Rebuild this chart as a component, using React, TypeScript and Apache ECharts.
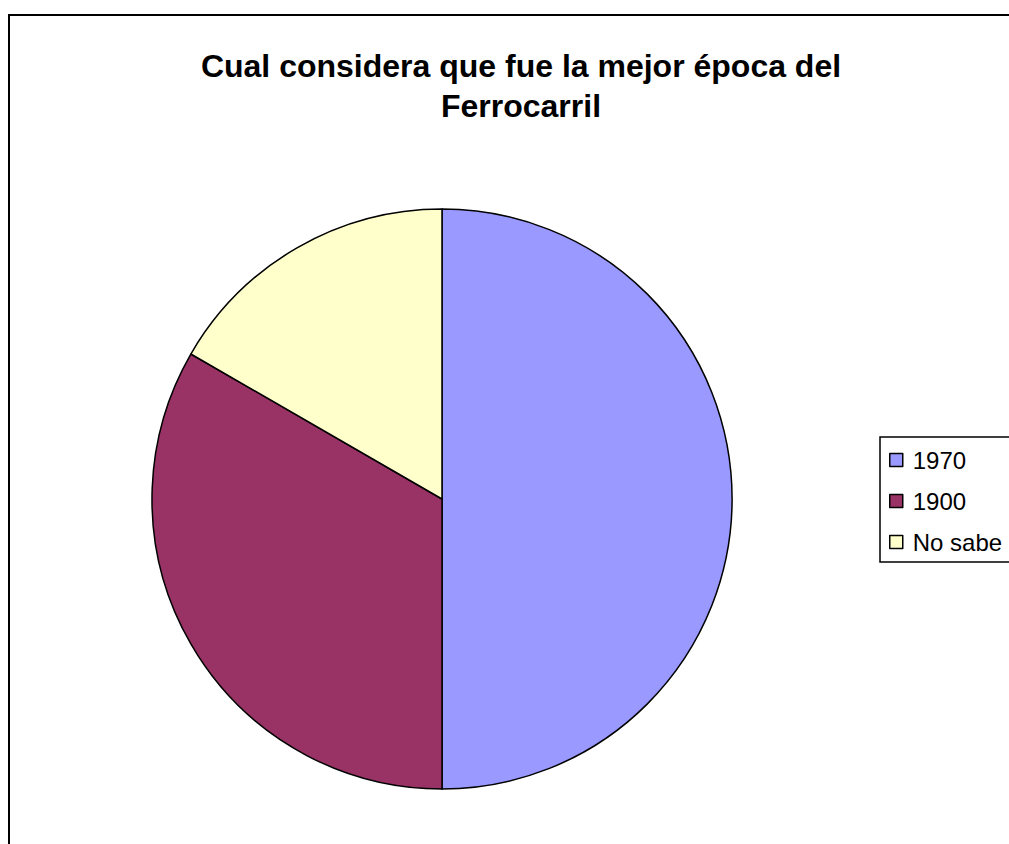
import React, { useEffect, useRef } from "react";
import * as echarts from "echarts";

const categories = ["1970", "1900", "No sabe"];
const values = [15, 10, 5];
const colors = ["#9999FF", "#993366", "#FFFFCC"];
const titleText = "Cual considera que fue la mejor época del\nFerrocarril";

export default function App() {
  const ref = useRef<HTMLDivElement>(null);
  useEffect(() => {
    const chart = echarts.init(ref.current!, undefined, { renderer: "svg" });
    chart.setOption({
      animation: false,
      backgroundColor: "#ffffff",
      title: {
        text: titleText,
        left: 516,
        top: 41,
        textAlign: "center",
        textStyle: {
          fontFamily: "Liberation Sans",
          fontSize: 32,
          fontWeight: "bold",
          color: "#000",
          lineHeight: 40,
        },
      },
      legend: {
        orient: "vertical",
        left: 880,
        top: 437,
        data: categories,
        icon: "rect",
        itemWidth: 13,
        itemHeight: 13,
        itemGap: 17,
        padding: [11, 12, 8, 9],
        borderColor: "#000",
        borderWidth: 1.5,
        itemStyle: { borderColor: "#000", borderWidth: 1.5 },
        textStyle: { fontFamily: "Liberation Sans", fontSize: 24, color: "#000", padding: [0, 0, 0, 5] },
        selectedMode: false,
      },
      graphic: [
        {
          type: "rect",
          shape: { x: 9, y: 15, width: 1100, height: 900 },
          style: { fill: "none", stroke: "#000", lineWidth: 2 },
          silent: true,
        },
      ],
      series: [
        {
          type: "pie",
          center: [442, 499],
          radius: 290,
          startAngle: 90,
          clockwise: true,
          label: { show: false },
          labelLine: { show: false },
          emphasis: { disabled: true },
          itemStyle: { borderColor: "#000", borderWidth: 1.5 },
          data: categories.map((c, i) => ({ name: c, value: values[i], itemStyle: { color: colors[i] } })),
        },
      ],
    });
    return () => chart.dispose();
  }, []);
  return (
    <div
      ref={ref}
      style={{ position: "fixed", left: 0, top: 0, width: 1009, height: 844 }}
    />
  );
}
